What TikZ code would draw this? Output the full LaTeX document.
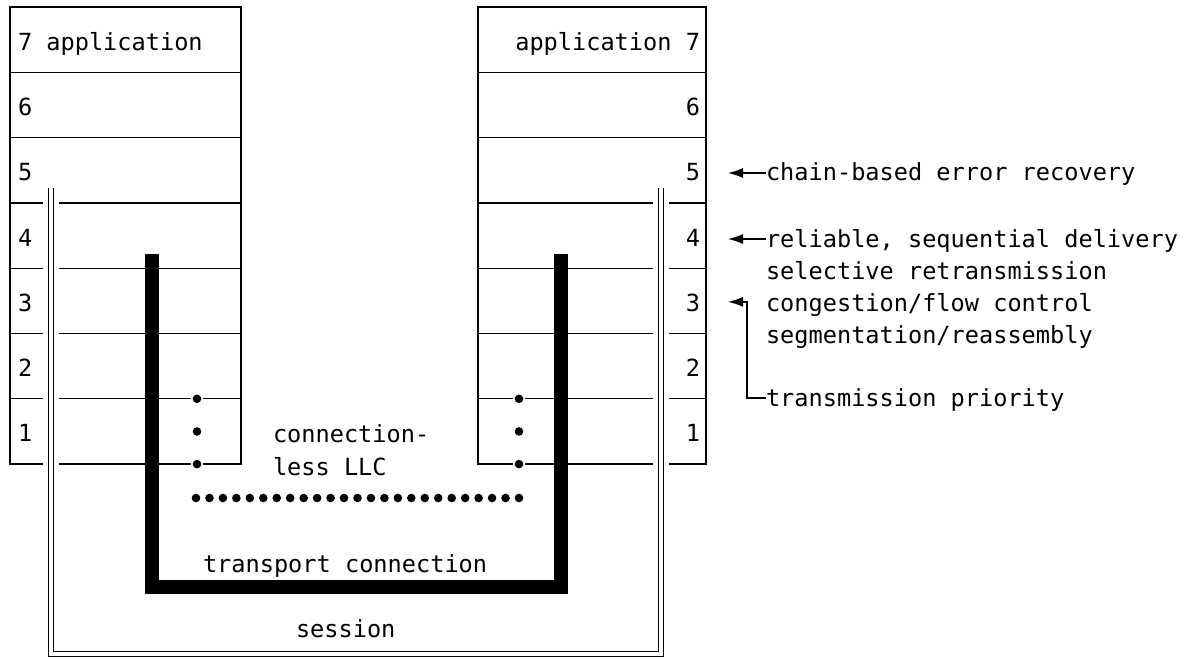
\documentclass[tikz,border=0pt]{standalone}
\usepackage{fontspec}
\newfontfamily\typewriter{DejaVu Sans Mono}
\usetikzlibrary{arrows.meta}
\begin{document}
\begin{tikzpicture}[x=1pt,y=-1pt,
  layer/.style={draw, line width=1.3pt, minimum height=65.3pt, inner sep=0pt, outer sep=0pt},
  txt/.style={font=\typewriter\fontsize{23.6}{28}\selectfont, inner sep=0pt, outer sep=0pt},
  dothalo/.style={circle, fill=white, inner sep=0pt, minimum size=12.5pt},
  dot/.style={circle, fill=black, inner sep=0pt, minimum size=8.6pt},
  arr/.style={line width=1.3pt, -{Latex[length=15pt,width=10pt]}},
  halo/.style={white, line width=16pt},
  sessionline/.style={double, line width=1.2pt, double distance=3.6pt, line join=miter},
  transportline/.style={line width=13.5pt, line join=miter},
]
\useasboundingbox (0,0) rectangle (1197,659);

% the two seven-layer protocol stacks
\foreach \k in {1,...,7} {
  \node[layer, minimum width=231pt] (L\k) at (125.5, {7+65.3*(7-\k)+32.65}) {};
  \node[layer, minimum width=228pt] (R\k) at (592, {7+65.3*(7-\k)+32.65}) {};
}

% layer numbers
\node[txt, anchor=base west] (ln7) at ([xshift=8pt,yshift=-10.5pt]L7.west) {7 application};
\node[txt, anchor=base east] (rn7) at ([xshift=-6pt,yshift=-10.5pt]R7.east) {application 7};
\foreach \k in {1,...,6} {
  \node[txt, anchor=base west] (ln\k) at ([xshift=8pt,yshift=-10.5pt]L\k.west) {\k};
  \node[txt, anchor=base east] (rn\k) at ([xshift=-6pt,yshift=-10.5pt]R\k.east) {\k};
}

% session: double line from layer 5 to layer 5
\coordinate (sesL) at (51,188);
\coordinate (sesR) at (661,188);
\coordinate (sesB) at (661,654);
\draw[halo] (sesL) |- (sesB) -- (sesR);
\draw[sessionline] (sesL) |- (sesB) -- (sesR);

% transport connection: heavy line from layer 4 to layer 4
\coordinate (trL) at (152,254);
\coordinate (trR) at (561,254);
\coordinate (trB) at (561,587);
\draw[transportline] (trL) |- (trB) -- (trR);

% connectionless LLC below layer 1: dots break the layer borders
\foreach \x/\s in {197/l, 519/r} {
  \foreach \y/\n in {398.8/a, 431.45/b, 464.1/c} {
    \node[dothalo] at (\x,\y) {};
    \node[dot] (\s\n) at (\x,\y) {};
  }
}
\foreach \i in {0,...,24}
  \node[dot] (d\i) at ({196+\i*13.458},498) {};

\node[txt, anchor=base west] (cl1) at (273,442) {connection-};
\node[txt, anchor=base west] (cl2) at (273,475) {less LLC};
\node[txt, anchor=base west] (tc) at (203,572) {transport connection};
\node[txt, anchor=base west] (ss) at (296,637) {session};

% functions provided at the right-hand layers
\node[txt, anchor=base west] (c5)  at (766,180) {chain-based error recovery};
\node[txt, anchor=base west] (c4a) at (766,247) {reliable, sequential delivery};
\node[txt, anchor=base west] (c4b) at (766,279) {selective retransmission};
\node[txt, anchor=base west] (c3a) at (766,311) {congestion/flow control};
\node[txt, anchor=base west] (c3b) at (766,343) {segmentation/reassembly};
\node[txt, anchor=base west] (cpr) at (766,406) {transmission priority};

\coordinate (t5) at ([xshift=22pt]R5.east);
\coordinate (t4) at ([xshift=22pt]R4.east);
\coordinate (t3) at ([xshift=22pt,yshift=-1pt]R3.east);
\coordinate (c5in) at ([yshift=7pt]c5.base west);
\coordinate (c4in) at ([yshift=8pt]c4a.base west);
\coordinate (prin) at ([yshift=8pt]cpr.base west);
\coordinate (hook) at (747,0);

\draw[arr] (c5in) -- (c5in -| t5);
\draw[arr] (c4in) -- (c4in -| t4);
\draw[arr] (prin) -| (hook |- t3) -- (t3);
\end{tikzpicture}
\end{document}
